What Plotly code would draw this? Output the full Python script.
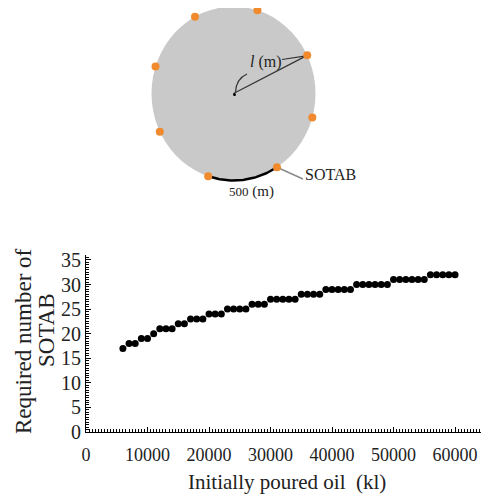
import numpy as np
import plotly.graph_objects as go

# ---- scatter data ----
oil_kl = list(range(6000, 61000, 1000))
sotab_required = ([17] + [18] * 2 + [19] * 2 + [20] + [21] * 3 + [22] * 2 + [23] * 3 +
                  [24] * 3 + [25] * 4 + [26] * 3 + [27] * 5 + [28] * 4 + [29] * 5 +
                  [30] * 6 + [31] * 6 + [32] * 5)
x_tick_vals = [0, 10000, 20000, 30000, 40000, 50000, 60000]
x_tick_text = ["0", "10000", "20000", "30000", "40000", "50000", "60000"]
y_tick_vals = [0, 5, 10, 15, 20, 25, 30, 35]
y_tick_text = ["0", "5", "10", "15", "20", "25", "30", "35"]

# ---- diagram data (angles of SOTAB buoys on the slick edge, degrees) ----
buoy_angles = [26, 73, 118, 162, 206, 252, 302, 344]
arc_angles = [252, 302]
radius_buoy_angle = 26
label_buoy_angle = 302

SERIF = "Liberation Serif, Times New Roman, serif"
WIN_W, WIN_H = 489, 499
OFF = 8  # default page body margin
W, H = WIN_W - OFF, WIN_H - OFF

# diagram geometry in window-pixel space (x2 / y2 axes are pixel-mapped)
cx, cy, rx, ry = 233.5, 93.5, 82.0, 87.0


def pt(deg):
    t = np.deg2rad(deg)
    return cx + rx * np.cos(t), cy - ry * np.sin(t)


def px(x):
    return (x - OFF) / W


def py(y):
    return 1 - (y - OFF) / H


fig = go.Figure()

# scatter chart
fig.add_trace(go.Scatter(
    x=oil_kl, y=sotab_required, mode="markers",
    marker=dict(color="black", size=7, line=dict(width=0)),
    xaxis="x", yaxis="y", showlegend=False, hoverinfo="skip"))

common = dict(xaxis="x2", yaxis="y2", showlegend=False, hoverinfo="skip")
rx1, ry1 = pt(radius_buoy_angle)
fig.add_trace(go.Scatter(x=[cx, rx1], y=[cy, ry1], mode="lines",
                         line=dict(color="#333333", width=1.2), **common))
fig.add_trace(go.Scatter(x=[282, rx1 - 1], y=[59.5, ry1 + 0.5], mode="lines",
                         line=dict(color="#333333", width=1.2), **common))
ta = np.linspace(arc_angles[0], arc_angles[1], 60)
ax_, ay_ = zip(*[pt(a) for a in ta])
fig.add_trace(go.Scatter(x=ax_, y=ay_, mode="lines",
                         line=dict(color="black", width=2.5), **common))
lx, ly = pt(label_buoy_angle)
fig.add_trace(go.Scatter(x=[lx, 303], y=[ly, 179], mode="lines",
                         line=dict(color="#8a8a8a", width=1.5), **common))
bx, by = zip(*[pt(a) for a in buoy_angles])
fig.add_trace(go.Scatter(x=list(bx), y=list(by), mode="markers",
                         marker=dict(color="#F08A2C", size=8, line=dict(width=0)), **common))
fig.add_trace(go.Scatter(x=[cx + 1], y=[cy + 1], mode="markers",
                         marker=dict(color="black", size=3), **common))

shapes = [
    dict(type="circle", xref="x2", yref="y2", x0=cx - rx, x1=cx + rx,
         y0=cy - ry, y1=cy + ry, fillcolor="#C9C9C9", line=dict(width=0), layer="below"),
    dict(type="path", xref="x2", yref="y2", path="M 247,74 Q 236,79 235.5,92",
         line=dict(color="#333333", width=1.2)),
]

annotations = [
    dict(xref="x2", yref="y2", x=266, y=62, text="<i>l</i> (m)", showarrow=False,
         font=dict(family=SERIF, size=16, color="#222")),
    dict(xref="x2", yref="y2", x=303, y=174, xanchor="left", text="SOTAB", showarrow=False,
         font=dict(family=SERIF, size=16, color="#222")),
    dict(xref="x2", yref="y2", x=251, y=191, text="<span style='font-size:13px'>500</span> (m)",
         showarrow=False, font=dict(family=SERIF, size=15, color="#222")),
    dict(xref="x2", yref="y2", x=287, y=482, text="Initially poured oil&nbsp;&nbsp;(kl)",
         showarrow=False, font=dict(family=SERIF, size=21, color="#222")),
    dict(xref="x2", yref="y2", x=23, y=341, text="Required number of",
         textangle=-90, showarrow=False, font=dict(family=SERIF, size=23, color="#222")),
    dict(xref="x2", yref="y2", x=46, y=330, text="SOTAB",
         textangle=-90, showarrow=False, font=dict(family=SERIF, size=23, color="#222")),
]

fig.update_layout(
    template="none",
    width=W, height=H, margin=dict(l=0, r=0, t=0, b=0, pad=0), autosize=False,
    paper_bgcolor="white", plot_bgcolor="rgba(0,0,0,0)",
    showlegend=False, shapes=shapes, annotations=annotations,
    xaxis=dict(domain=[px(86), px(487)], range=[0, 65200], anchor="y", automargin=False,
               tickvals=x_tick_vals, ticktext=x_tick_text,
               ticks="inside", ticklen=5, tickcolor="black", ticklabelstandoff=6,
               minor=dict(dtick=500, ticks="inside", ticklen=3, tickcolor="black"),
               showline=True, linecolor="black", linewidth=1,
               showgrid=False, zeroline=False,
               tickfont=dict(family=SERIF, size=18, color="#222")),
    yaxis=dict(domain=[py(432), py(255)], range=[0, 36], anchor="x", automargin=False,
               tickvals=y_tick_vals, ticktext=y_tick_text,
               ticks="inside", ticklen=5, tickcolor="black",
               minor=dict(dtick=0.5, ticks="inside", ticklen=3, tickcolor="black"),
               showline=True, linecolor="black", linewidth=1,
               showgrid=False, zeroline=False,
               tickfont=dict(family=SERIF, size=20, color="#222")),
    xaxis2=dict(domain=[0, 1], range=[OFF, OFF + W], anchor="y2", visible=False,
                automargin=False, fixedrange=True),
    yaxis2=dict(domain=[0, 1], range=[OFF + H, OFF], anchor="x2", visible=False,
                automargin=False, fixedrange=True),
)

fig.write_html("out.html")
